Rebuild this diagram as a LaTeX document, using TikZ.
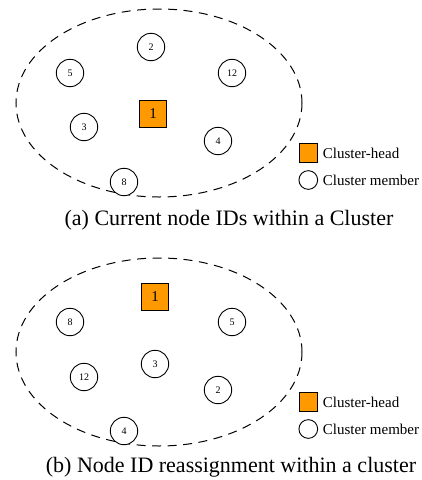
\documentclass[tikz,border=0pt]{standalone}
\usepackage{fontspec}
\setmainfont{Liberation Serif}
\usepackage{tikz}
\usetikzlibrary{positioning}

\definecolor{headorange}{RGB}{255,153,0}

\tikzset{
  member/.style = {draw, circle, line width=0.9pt, minimum size=27.4pt, inner sep=0pt, font=\fontsize{10}{12}\selectfont},
  head/.style = {draw, fill=headorange, line width=0.9pt, minimum size=27.4pt, inner sep=0pt, font=\fontsize{15}{18}\selectfont},
  keyhead/.style = {head, minimum size=18.7pt},
  keymember/.style = {member, minimum size=18.7pt},
  keytext/.style = {anchor=west, inner sep=0pt, font=\fontsize{15}{18}\selectfont},
  captext/.style = {inner sep=0pt, font=\fontsize{22}{26}\selectfont},
  border/.style = {line width=1pt, dash pattern=on 9pt off 6.5pt}
}

\begin{document}
\begin{tikzpicture}[x=1pt, y=-1pt]
\useasboundingbox (0,0) rectangle (422,480);

% (a) current IDs
\draw[border] (159,103) ellipse (143 and 94);

\node[head] (a1) at (153,114) {1};
\node[member] (a2) at (151,47) {2};
\node[member] (a5) at (70,73) {5};
\node[member] (a12) at (232,73) {12};
\node[member] (a3) at (84,127) {3};
\node[member] (a4) at (218,141) {4};
\node[member, fill=white] (a8) at (124,182) {8};

\node[keyhead] (akeyh) at (308.3,153) {};
\node[keymember] (akeym) at (308.3,180) {};
\node[keytext] (akeyhtext) at (322.7,153) {Cluster-head};
\node[keytext] (akeymtext) at (322.7,180) {Cluster member};

\node[captext] (acap) at (229,220) {(a) Current node IDs within a Cluster};

% (b) reassigned IDs
\draw[border] (159,352) ellipse (143 and 94);

\node[head] (b1) at (155,297) {1};
\node[member] (b8) at (70,322) {8};
\node[member] (b5) at (232,322) {5};
\node[member] (b3) at (155,364) {3};
\node[member] (b12) at (84,377) {12};
\node[member] (b2) at (218,390) {2};
\node[member, fill=white] (b4) at (124,431) {4};

\node[keyhead] (bkeyh) at (308.3,402) {};
\node[keymember] (bkeym) at (308.3,429) {};
\node[keytext] (bkeyhtext) at (322.7,402) {Cluster-head};
\node[keytext] (bkeymtext) at (322.7,429) {Cluster member};

\node[captext] (bcap) at (231,467) {(b) Node ID reassignment within a cluster};

\end{tikzpicture}
\end{document}
